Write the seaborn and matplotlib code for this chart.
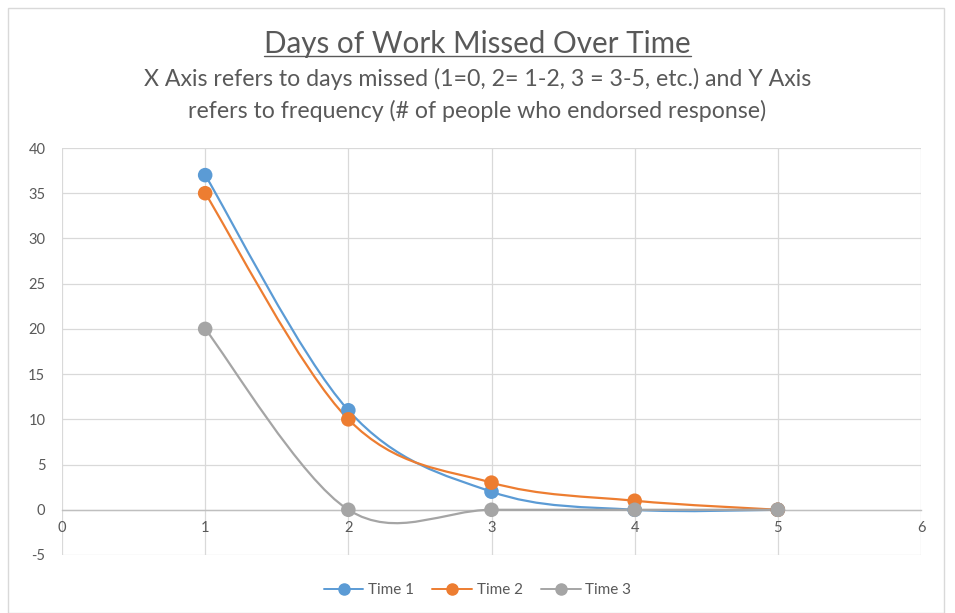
import numpy as np
import matplotlib
matplotlib.use("Agg")
import matplotlib.pyplot as plt
from matplotlib.path import Path
from matplotlib.patches import PathPatch, Rectangle
from matplotlib.lines import Line2D
import seaborn as sns
import pandas as pd

# data
days = [1, 2, 3, 4, 5]
time1 = [37, 11, 2, 0, 0]
time2 = [35, 10, 3, 1, 0]
time3 = [20, 0, 0, 0, 0]
series_names = ["Time 1", "Time 2", "Time 3"]
colors = ["#5B9BD5", "#ED7D31", "#A5A5A5"]

title = "Days of Work Missed Over Time"
subtitle = ("X Axis refers to days missed (1=0, 2= 1-2, 3 = 3-5, etc.) and Y Axis\n"
            "refers to frequency (# of people who endorsed response)")

sns.set_theme(style="white")
plt.rcParams["font.family"] = ["Lato", "DejaVu Sans"]
plt.rcParams["axes.unicode_minus"] = False
txt = "#595959"


def smooth_path(xs, ys):
    # Excel-like smoothed line: Catmull-Rom segments as cubic Beziers
    pts = np.column_stack([xs, ys]).astype(float)
    n = len(pts)
    verts = [pts[0]]
    codes = [Path.MOVETO]
    for i in range(n - 1):
        p0 = pts[max(i - 1, 0)]
        p1 = pts[i]
        p2 = pts[i + 1]
        p3 = pts[min(i + 2, n - 1)]
        c1 = p1 + (p2 - p0) / 6.0
        c2 = p2 - (p3 - p1) / 6.0
        verts += [c1, c2, p2]
        codes += [Path.CURVE4] * 3
    return Path(verts, codes)


df = pd.DataFrame({"day": days * 3,
                   "value": time1 + time2 + time3,
                   "series": sum([[s] * len(days) for s in series_names], [])})

fig = plt.figure(figsize=(9.55, 6.13), dpi=100)
fig.patches.append(Rectangle((8 / 955, 0), 936 / 955, 605 / 613, transform=fig.transFigure,
                             fill=False, edgecolor="#D9D9D9", linewidth=1))
ax = fig.add_axes([62 / 955, 58 / 613, 859 / 955, 407 / 613])

for name, col in zip(series_names, colors):
    sub = df[df["series"] == name]
    ax.add_patch(PathPatch(smooth_path(sub["day"], sub["value"]), facecolor="none",
                           edgecolor=col, linewidth=1.6, zorder=3))

sns.scatterplot(data=df, x="day", y="value", hue="series", palette=colors,
                s=110, edgecolor="none", legend=False, zorder=4, ax=ax)

ax.set_xlim(0, 6)
ax.set_ylim(-5, 40)
ax.set_xticks(range(0, 7))
ax.set_yticks(range(-5, 41, 5))
ax.grid(True, color="#D9D9D9", linewidth=0.9)
ax.set_axisbelow(True)
for s in ["top", "right", "left"]:
    ax.spines[s].set_visible(False)
ax.spines["bottom"].set_position(("data", 0))
ax.spines["bottom"].set_color("#BFBFBF")
ax.spines["bottom"].set_linewidth(1.0)
ax.tick_params(length=0, labelsize=10.5, labelcolor=txt, pad=8)
ax.tick_params(axis="y", pad=12)
ax.set_xlabel("")
ax.set_ylabel("")

t = fig.text(0.5, 1 - 44 / 613, title, ha="center", va="center", fontsize=21.3, color=txt)
fig.text(0.5, 1 - 95 / 613, subtitle, ha="center", va="center", fontsize=16.7,
         color=txt, linespacing=1.55)

# underline title
fig.canvas.draw()
bb = t.get_window_extent().transformed(fig.transFigure.inverted())
fig.add_artist(Line2D([bb.x0, bb.x1], [bb.y0 + 0.004, bb.y0 + 0.004],
                      transform=fig.transFigure, color=txt, linewidth=1.0))

handles = [Line2D([0], [0], color=c, marker="o", markersize=8, linewidth=1.4)
           for c in colors]
fig.legend(handles, series_names, loc="center", bbox_to_anchor=(0.5, 1 - 590 / 613),
           ncol=3, frameon=False, fontsize=11, labelcolor=txt, handlelength=2.6,
           columnspacing=1.2, handletextpad=0.3)

fig.savefig("out.png", dpi=100)
